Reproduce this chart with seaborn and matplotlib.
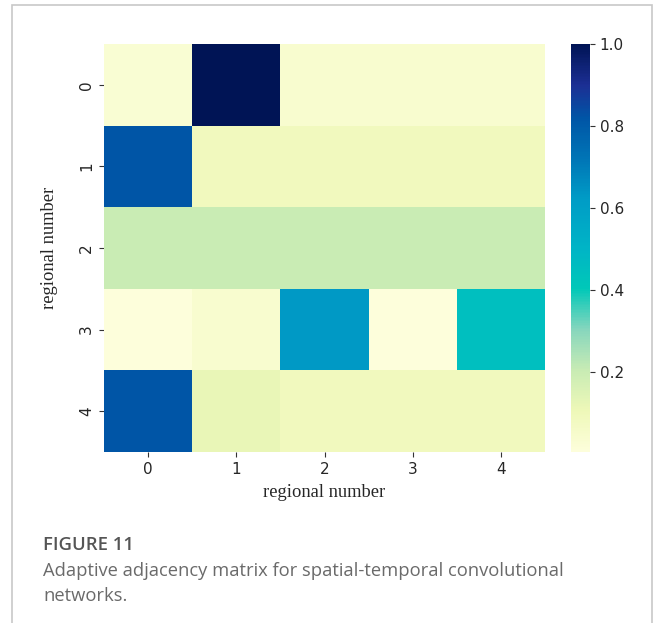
import numpy as np
import pandas as pd
import matplotlib
matplotlib.use("Agg")
import matplotlib.pyplot as plt
import seaborn as sns
from matplotlib.colors import LinearSegmentedColormap
from matplotlib.patches import Rectangle

# ---- data ----
regions = [0, 1, 2, 3, 4]
row0 = [0.03, 1.00, 0.04, 0.04, 0.04]
row1 = [0.82, 0.09, 0.09, 0.09, 0.09]
row2 = [0.20, 0.20, 0.20, 0.20, 0.20]
row3 = [0.005, 0.04, 0.63, 0.005, 0.45]
row4 = [0.82, 0.12, 0.09, 0.09, 0.09]
axis_label = "regional number"
caption_title = "FIGURE 11"
caption_text = "Adaptive adjacency matrix for spatial-temporal convolutional\nnetworks."

matrix = pd.DataFrame([row0, row1, row2, row3, row4], index=regions, columns=regions)

# saturated YlGnBu-like colormap as in the reference
cmap = LinearSegmentedColormap.from_list("ylgnbu_sat", [
    (0.00, "#fdfedb"),
    (0.10, "#eef8b8"),
    (0.20, "#c8ebb4"),
    (0.30, "#86d6bd"),
    (0.40, "#00c8b8"),
    (0.50, "#00b4c6"),
    (0.62, "#009cc6"),
    (0.72, "#0075b6"),
    (0.82, "#0055a6"),
    (0.90, "#1c2f94"),
    (1.00, "#001455"),
])

sns.set_style("white")
plt.rcParams["font.family"] = ["DejaVu Sans"]
fig = plt.figure(figsize=(6.56, 6.23), dpi=100)

ax = fig.add_axes([104/656, 1-452/623, 441/656, 408/623])
cax = fig.add_axes([571/656, 1-452/623, 19/656, 408/623])

sns.heatmap(matrix, ax=ax, cbar_ax=cax, cmap=cmap, cbar=True)

ax.tick_params(axis="both", which="both", length=3.5, width=0.8, labelsize=11,
               bottom=True, left=True, color="#333333")
ax.set_yticklabels(ax.get_yticklabels(), rotation=90, va="center")
ax.set_xticklabels(ax.get_xticklabels(), rotation=0)
ax.set_xlabel(axis_label, family="Liberation Serif", fontsize=13.3, labelpad=5)
ax.set_ylabel(axis_label, family="Liberation Serif", fontsize=13.3, labelpad=15)

cax.tick_params(labelsize=11, length=3.5, width=0.8, right=True, color="#333333")
cax.set_yticks([0.2, 0.4, 0.6, 0.8, 1.0])

# outer frame
fig.patches.append(Rectangle((12/656, -0.05), (652-12)/656, 1.05 - 5/623,
                             transform=fig.transFigure, fill=False,
                             edgecolor="#c8c8c8", linewidth=1.2))

fig.text(43/656, 1-545/623, caption_title, family="Open Sans", fontsize=13.3,
         color="#555555", weight="semibold", va="center")
fig.text(43/656, 1-562/623, caption_text, family="Open Sans", fontsize=13.2,
         color="#6a6a6a", va="top", linespacing=1.5)

fig.savefig("out.png", dpi=100)
